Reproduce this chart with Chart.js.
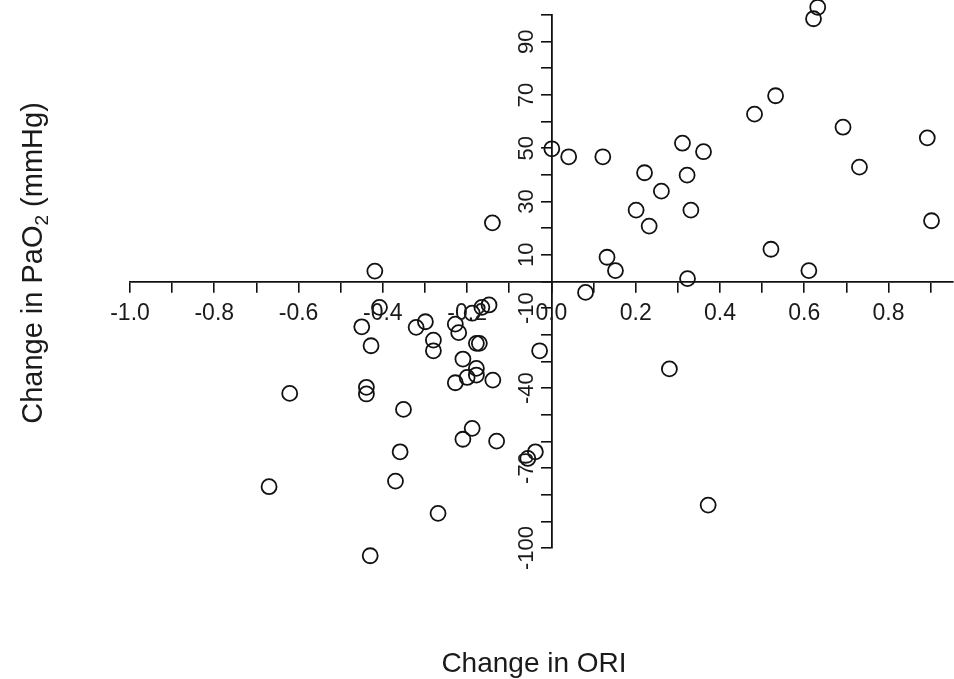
<!DOCTYPE html>
<html>
<head>
<meta charset="utf-8">
<script src="https://cdn.jsdelivr.net/npm/chart.js@4.4.0/dist/chart.umd.min.js"></script>
<style>
  html, body { margin: 0; padding: 0; background: #fff; overflow: hidden; }
  canvas { display: block; }
</style>
</head>
<body>
<canvas id="chart" width="954" height="679"></canvas>
<script>
// change in ORI (x) and change in PaO2 (y)
const oriChange = [
  0.632, 0.622, 0.532, 0.482, 0.692, 0.892, 0.731, 0.902, 0.521, 0.611,
  0.001, 0.041, 0.122, 0.311, 0.361, 0.221, 0.322, 0.261, 0.201, 0.331,
  0.232, 0.132, 0.152, 0.323, 0.081, -0.140, 0.280, 0.372,
  -0.419, -0.408, -0.450, -0.428, -0.321, -0.299, -0.280, -0.280, -0.228, -0.220,
  -0.188, -0.165, -0.148, -0.178, -0.171, -0.210, -0.178, -0.178, -0.200, -0.228,
  -0.139, -0.028, -0.621, -0.439, -0.439, -0.351, -0.188, -0.210, -0.130, -0.038,
  -0.056, -0.359, -0.370, -0.670, -0.269, -0.430
];
const pao2Change = [
  102.9, 98.6, 69.7, 62.8, 57.9, 53.9, 42.9, 22.8, 12.1, 4.1,
  49.8, 46.8, 46.8, 51.9, 48.7, 40.8, 39.9, 33.9, 26.8, 26.8,
  20.8, 9.1, 4.1, 1.1, -4.1, 22.0, -32.8, -83.9,
  3.9, -9.7, -17.0, -24.1, -17.2, -15.1, -22.0, -26.0, -16.0, -19.2,
  -11.9, -9.7, -8.8, -23.2, -23.2, -29.1, -32.6, -35.1, -36.0, -38.0,
  -37.0, -26.0, -42.0, -39.7, -42.2, -48.0, -55.1, -59.2, -59.9, -63.9,
  -66.4, -63.9, -74.9, -77.0, -87.0, -102.9
];

const xTickMarks = [-1.0, -0.9, -0.8, -0.7, -0.6, -0.5, -0.4, -0.3, -0.2, -0.1,
                    0.0, 0.1, 0.2, 0.3, 0.4, 0.5, 0.6, 0.7, 0.8, 0.9];
const xTickValues = [-1.0, -0.8, -0.6, -0.4, -0.2, 0.0, 0.2, 0.4, 0.6, 0.8];
const xTickLabels = ['-1.0', '-0.8', '-0.6', '-0.4', '-0.2', '0.0', '0.2', '0.4', '0.6', '0.8'];

const yTickMarks = [-100, -90, -80, -70, -60, -50, -40, -30, -20, -10, 0,
                    10, 20, 30, 40, 50, 60, 70, 80, 90, 100];
const yTickValues = [-100, -70, -40, -10, 10, 30, 50, 70, 90];
const yTickLabels = ['-100', '-70', '-40', '-10', '10', '30', '50', '70', '90'];

const xTitle = 'Change in ORI';
const yTitleParts = ['Change in PaO', '2', ' (mmHg)'];

const FONT = '"Liberation Sans", Arial, Helvetica, sans-serif';
const INK = '#1a1a1a';

const points = oriChange.map((v, i) => ({ x: v, y: pao2Change[i] }));

// tick labels and axis titles drawn by hand (y labels are rotated)
const axisText = {
  id: 'axisText',
  afterDraw(chart) {
    const { ctx, scales: { x, y } } = chart;
    const x0 = x.getPixelForValue(0);
    const y0 = y.getPixelForValue(0);
    ctx.save();
    ctx.fillStyle = INK;
    ctx.textAlign = 'center';
    ctx.textBaseline = 'middle';

    ctx.font = '23px ' + FONT;
    xTickValues.forEach((v, i) => {
      ctx.fillText(xTickLabels[i], x.getPixelForValue(v), y0 + 32);
    });

    ctx.font = '22px ' + FONT;
    yTickValues.forEach((v, i) => {
      ctx.save();
      ctx.translate(x0 - 24, y.getPixelForValue(v));
      ctx.rotate(-Math.PI / 2);
      ctx.fillText(yTickLabels[i], 0, 0);
      ctx.restore();
    });

    // x title
    ctx.font = '28px ' + FONT;
    ctx.textBaseline = 'alphabetic';
    ctx.fillText(xTitle, 534, 672);

    // y title with subscript 2
    ctx.save();
    ctx.translate(42, 263);
    ctx.rotate(-Math.PI / 2);
    ctx.textAlign = 'left';
    const big = '29px ' + FONT, small = '19px ' + FONT;
    ctx.font = big;
    const w0 = ctx.measureText(yTitleParts[0]).width;
    const w2 = ctx.measureText(yTitleParts[2]).width;
    ctx.font = small;
    const w1 = ctx.measureText(yTitleParts[1]).width;
    let cx = -(w0 + w1 + w2) / 2;
    ctx.font = big;
    ctx.fillText(yTitleParts[0], cx, 0);
    cx += w0;
    ctx.font = small;
    ctx.fillText(yTitleParts[1], cx, 6);
    cx += w1;
    ctx.font = big;
    ctx.fillText(yTitleParts[2], cx, 0);
    ctx.restore();

    ctx.restore();
  }
};

new Chart(document.getElementById('chart'), {
  type: 'scatter',
  data: {
    datasets: [{
      data: points,
      pointRadius: 7.5,
      pointHoverRadius: 7.5,
      pointBorderWidth: 1.8,
      borderColor: '#111',
      backgroundColor: 'rgba(0,0,0,0)',
      clip: false
    }]
  },
  options: {
    responsive: false,
    animation: false,
    layout: { autoPadding: false, padding: { left: 130, right: 1, top: 15, bottom: 131 } },
    plugins: { legend: { display: false }, tooltip: { enabled: false } },
    scales: {
      x: {
        type: 'linear',
        min: -1.0,
        max: 0.953,
        position: { y: 0 },
        afterBuildTicks: s => { s.ticks = xTickMarks.map(v => ({ value: v })); },
        ticks: { display: false },
        grid: { drawOnChartArea: false, drawTicks: true, tickLength: 10, color: '#111', lineWidth: 1.6 },
        border: { display: true, color: '#111', width: 1.8 }
      },
      y: {
        type: 'linear',
        min: -100,
        max: 100,
        position: { x: 0 },
        afterBuildTicks: s => { s.ticks = yTickMarks.map(v => ({ value: v })); },
        ticks: { display: false },
        grid: { drawOnChartArea: false, drawTicks: true, tickLength: 10, color: '#111', lineWidth: 1.6 },
        border: { display: true, color: '#111', width: 1.8 }
      }
    }
  },
  plugins: [axisText]
});
</script>
</body>
</html>
